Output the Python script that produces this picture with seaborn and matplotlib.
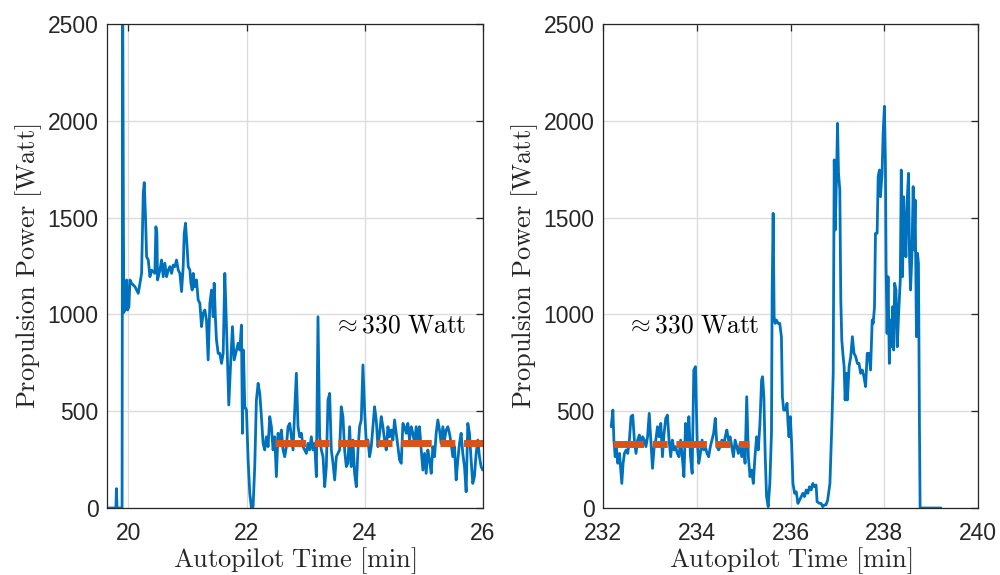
import numpy as np
import pandas as pd
import matplotlib
matplotlib.use("Agg")
import matplotlib.pyplot as plt
import seaborn as sns

# ---------------- data ----------------
left_time = [19.64, 19.79, 19.80, 19.81, 19.895, 19.905, 19.918, 19.925, 19.94,
    19.955, 19.972, 19.989, 20.011, 20.028, 20.056, 20.113, 20.141, 20.169, 20.197,
    20.225, 20.253, 20.270, 20.293, 20.310, 20.338, 20.366, 20.394, 20.450, 20.467,
    20.484, 20.495, 20.535, 20.563, 20.591, 20.619, 20.648, 20.676, 20.704, 20.732,
    20.760, 20.788, 20.816, 20.845, 20.873, 20.901, 20.929, 20.946, 20.968, 20.991,
    21.014, 21.042, 21.059, 21.081, 21.098, 21.126, 21.154, 21.182, 21.211, 21.239,
    21.267, 21.295, 21.323, 21.351, 21.380, 21.408, 21.436, 21.453, 21.475, 21.492,
    21.520, 21.548, 21.577, 21.605, 21.633, 21.661, 21.700, 21.734, 21.762, 21.791,
    21.830, 21.858, 21.886, 21.914, 21.931, 21.948, 21.971, 21.999, 22.027, 22.055,
    22.083, 22.111, 22.139, 22.167, 22.196, 22.224, 22.252, 22.280, 22.308, 22.336,
    22.365, 22.393, 22.421, 22.449, 22.477, 22.505, 22.533, 22.562, 22.590, 22.618,
    22.646, 22.674, 22.702, 22.731, 22.759, 22.787, 22.815, 22.843, 22.871, 22.899,
    22.928, 22.956, 22.984, 23.012, 23.040, 23.068, 23.096, 23.125, 23.153, 23.181,
    23.209, 23.237, 23.265, 23.294, 23.322, 23.350, 23.378, 23.406, 23.434, 23.463,
    23.491, 23.519, 23.575, 23.603, 23.631, 23.659, 23.688, 23.716,
    23.744, 23.772, 23.800, 23.828, 23.857, 23.885, 23.913, 23.941, 23.969, 23.997,
    24.026, 24.054, 24.082, 24.110, 24.138, 24.166, 24.194, 24.223, 24.251, 24.279,
    24.307, 24.335, 24.363, 24.392, 24.420, 24.448, 24.476, 24.504, 24.532, 24.560,
    24.589, 24.617, 24.645, 24.673, 24.701, 24.729, 24.757, 24.786, 24.814, 24.842,
    24.870, 24.898, 24.926, 24.955, 24.983, 25.011, 25.039, 25.067, 25.095, 25.124,
    25.152, 25.180, 25.208, 25.236, 25.264, 25.292, 25.321, 25.349, 25.377, 25.405,
    25.433, 25.461, 25.489, 25.518, 25.546, 25.574, 25.602, 25.630, 25.658, 25.687,
    25.715, 25.743, 25.771, 25.799, 25.827, 25.855, 25.884, 25.912, 25.940, 25.968,
    25.996]
left_power = [0, 0, 100, 0, 0, 2700, 1480, 1010, 1050,
    1023, 1178, 1023, 1040, 1178, 1161, 1143, 1126, 1109, 1161,
    1212, 1625, 1681, 1488, 1298, 1281, 1195, 1229, 1212, 1453,
    1419, 1178, 1229, 1281, 1195, 1264, 1195, 1229, 1247, 1212,
    1255, 1247, 1281, 1229, 1212, 1118, 1247, 1419, 1471, 1367,
    1247, 1229, 1161, 1126, 1212, 1143, 1178, 1075, 1057, 937,
    1006, 1023, 971, 765, 1057, 1126, 988, 1161, 971, 868,
    799, 799, 747, 799, 1212, 937, 532, 765, 937, 765,
    816, 851, 816, 945, 386, 816, 523, 506, 248, 76,
    0, 7, 214, 558, 644, 592, 472, 334, 300, 368,
    317, 472, 420, 300, 368, 162, 386, 351, 403, 300,
    265, 317, 420, 437, 368, 300, 506, 696, 420, 368,
    386, 317, 300, 282, 334, 300, 368, 300, 334, 162,
    988, 368, 300, 265, 110, 214, 558, 592, 300, 231,
    145, 265, 300, 523, 472, 300, 214, 231,
    420, 214, 351, 179, 110, 300, 420, 455, 739, 506,
    334, 351, 265, 317, 420, 523, 455, 317, 386, 472,
    420, 351, 300, 420, 368, 403, 351, 455, 386, 317,
    248, 231, 437, 420, 386, 437, 351, 420, 386, 334,
    420, 351, 420, 300, 196, 282, 179, 300, 248, 179,
    317, 265, 386, 455, 403, 334, 420, 351, 403, 420,
    386, 334, 265, 317, 145, 248, 334, 386, 282, 214,
    84, 437, 386, 248, 127, 162, 282, 351, 265, 214,
    196]

right_time = [232.175, 232.211, 232.232, 232.260, 232.281, 232.316, 232.352, 232.373,
    232.401, 232.429, 232.457, 232.493, 232.528, 232.563, 232.598, 232.634, 232.669,
    232.704, 232.739, 232.775, 232.810, 232.845, 232.880, 232.916, 232.951, 232.986,
    233.021, 233.056, 233.092, 233.127, 233.162, 233.197, 233.233, 233.268, 233.303,
    233.338, 233.374, 233.409, 233.444, 233.479, 233.515, 233.550, 233.585, 233.620,
    233.656, 233.691, 233.726, 233.761, 233.797, 233.832, 233.867, 233.902, 233.937,
    233.973, 234.008, 234.043, 234.078, 234.114, 234.149, 234.184, 234.219, 234.254,
    234.290, 234.325, 234.360, 234.395, 234.431, 234.466, 234.501, 234.536, 234.571,
    234.607, 234.642, 234.677, 234.712, 234.748, 234.783, 234.818, 234.853, 234.889,
    234.924, 234.960, 234.995, 235.031, 235.066, 235.101, 235.136, 235.171, 235.207,
    235.242, 235.277, 235.313, 235.348, 235.383, 235.404, 235.432, 235.461, 235.489,
    235.524, 235.559, 235.594, 235.609, 235.630, 235.651, 235.672, 235.700, 235.735,
    235.770, 235.806, 235.827, 235.855, 235.898, 235.926, 235.947, 235.968, 235.996,
    236.024, 236.052, 236.088, 236.123, 236.158, 236.194, 236.229, 236.264, 236.299,
    236.334, 236.370, 236.405, 236.440, 236.475, 236.511, 236.546, 236.567, 236.616,
    236.652, 236.687, 236.722, 236.757, 236.793, 236.841, 236.883, 236.911, 236.933,
    236.954, 236.982, 237.003, 237.024, 237.052, 237.073, 237.094, 237.123, 237.144,
    237.165, 237.193, 237.214, 237.250, 237.285, 237.320, 237.355, 237.391, 237.426,
    237.461, 237.496, 237.532, 237.567, 237.602, 237.637, 237.673, 237.708, 237.743,
    237.764, 237.792, 237.813, 237.848, 237.870, 237.898, 237.919, 237.954, 237.976,
    238.004, 238.025, 238.039, 238.060, 238.081, 238.109, 238.130, 238.152, 238.180,
    238.201, 238.222, 238.250, 238.278, 238.307, 238.342, 238.363, 238.391, 238.412,
    238.433, 238.462, 238.490, 238.518, 238.539, 238.561, 238.589, 238.617, 238.638,
    238.659, 238.687, 238.709, 238.730, 238.751, 238.765, 239.209]
right_power = [420, 506, 351, 265, 317, 231, 282, 214,
    127, 231, 282, 300, 282, 351, 472, 480, 351,
    282, 351, 377, 317, 368, 351, 317, 368, 489,
    351, 205, 317, 351, 420, 368, 437, 265, 386,
    463, 480, 351, 265, 351, 300, 317, 282, 265,
    351, 265, 162, 437, 351, 472, 265, 179, 713,
    730, 351, 231, 282, 351, 300, 317, 282, 265,
    317, 351, 386, 463, 317, 300, 317, 351, 317,
    368, 403, 351, 368, 317, 265, 351, 317, 282,
    334, 265, 334, 231, 575, 265, 162, 196, 127,
    265, 368, 300, 437, 661, 678, 575, 265, 59,
    7, 127, 386, 1126, 1522, 988, 954, 971, 954,
    954, 885, 575, 506, 506, 541, 437, 368, 472,
    334, 127, 76, 84, 24, 41, 59, 76, 59,
    93, 76, 110, 93, 127, 110, 119, 33, 24,
    24, 7, 16, 16, 41, 127, 437, 696, 1798,
    1436, 1712, 1987, 1730, 1643, 1075, 868, 782, 730,
    558, 696, 558, 730, 782, 885, 799, 782, 747,
    747, 696, 713, 678, 627, 799, 799, 713, 971,
    954, 1040, 1419, 1419, 1712, 1746, 1608, 1730, 1935,
    2075, 1781, 1247, 902, 1195, 747, 971, 833, 1040,
    816, 1161, 1126, 833, 1006, 1178, 1746, 1195, 1608,
    1471, 1298, 1591, 1729, 1298, 1126, 1298, 1660, 1333,
    1591, 885, 1316, 1264, 420, 0, 0]

left_ref_time = [22.48, 26.0]
left_ref_power = [338, 338]
right_ref_time = [232.21, 235.12]
right_ref_power = [330, 330]

left_xticks = [20, 22, 24, 26]
right_xticks = [232, 234, 236, 238, 240]
yticks = [0, 500, 1000, 1500, 2000, 2500]
annotation = r"${\approx}\mathrm{330\ Watt}$"
xlabel = r"$\mathrm{Autopilot\ Time\ [min]}$"
ylabel = r"$\mathrm{Propulsion\ Power\ [Watt]}$"

# ---------------- style ----------------
sns.set_style("white")
plt.rcParams["font.family"] = ["Liberation Sans", "DejaVu Sans"]
plt.rcParams["mathtext.fontset"] = "cm"

BLUE = "#0072BD"
ORANGE = "#D95319"
DARK = "#262626"

fig = plt.figure(figsize=(10, 5.75), dpi=100)
ax1 = fig.add_axes([0.107, 0.1165, 0.376, 0.8417])
ax2 = fig.add_axes([0.603, 0.1165, 0.375, 0.8417])

left_df = pd.DataFrame({"t": left_time, "p": left_power})
right_df = pd.DataFrame({"t": right_time, "p": right_power})
lref = pd.DataFrame({"t": left_ref_time, "p": left_ref_power})
rref = pd.DataFrame({"t": right_ref_time, "p": right_ref_power})

panels = [
    (ax1, left_df, lref, (19.64, 26), left_xticks, (23.47, 905)),
    (ax2, right_df, rref, (232, 240), right_xticks, (232.49, 905)),
]

for ax, df, ref, xlim, xt, txy in panels:
    ax.grid(True, color="#dcdcdc", linewidth=1.0)
    ax.set_axisbelow(True)
    sns.lineplot(data=df, x="t", y="p", ax=ax, color=BLUE, linewidth=2.0,
                 estimator=None, sort=False)
    n = len(ax.lines)
    sns.lineplot(data=ref, x="t", y="p", ax=ax, color=ORANGE, linewidth=5.0,
                 estimator=None, sort=False)
    for ln in ax.lines[n:]:
        ln.set_dashes([4.4, 1.25, 2.15, 1.25])
        ln.set_dash_capstyle("butt")
    ax.set_xlim(*xlim)
    ax.set_ylim(0, 2500)
    ax.set_xticks(xt)
    ax.set_yticks(yticks)
    ax.tick_params(direction="in", top=True, right=True, length=5, width=0.9,
                   colors=DARK, labelsize=16.5)
    ax.tick_params(axis="x", pad=10)
    ax.tick_params(axis="y", pad=6)
    for s in ax.spines.values():
        s.set_visible(True)
        s.set_color(DARK)
        s.set_linewidth(0.9)
    ax.set_xlabel(xlabel, fontsize=19, color=DARK, labelpad=0)
    ax.set_ylabel(ylabel, fontsize=19, color=DARK, labelpad=3)
    ax.text(txy[0], txy[1], annotation, fontsize=18.3, color="black")

fig.savefig("out.png", dpi=100, facecolor="white")
